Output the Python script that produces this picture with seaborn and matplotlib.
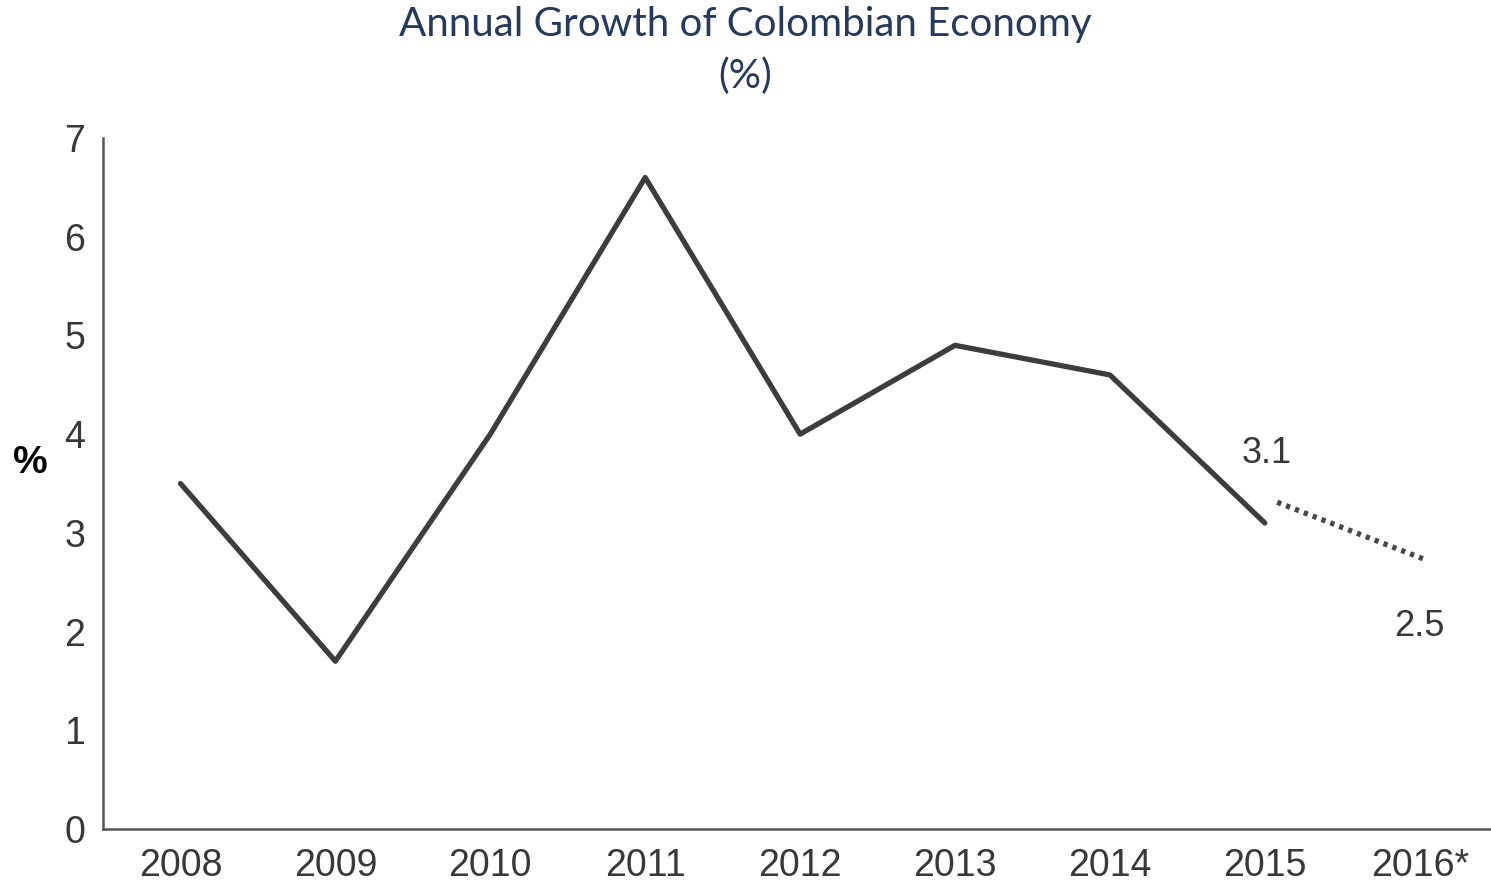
import pandas as pd
import matplotlib.pyplot as plt
import seaborn as sns

# datos
years = [2008, 2009, 2010, 2011, 2012, 2013, 2014, 2015]
growth = [3.5, 1.7, 4.0, 6.6, 4.0, 4.9, 4.6, 3.1]
tick_years = [2008, 2009, 2010, 2011, 2012, 2013, 2014, 2015, 2016]
tick_labels = ['2008', '2009', '2010', '2011', '2012', '2013', '2014', '2015', '2016*']
# proyeccion (linea punteada)
proj_years = [2015.08, 2016.05]
proj_growth = [3.31, 2.72]

df = pd.DataFrame({'year': years, 'growth': growth})
proj = pd.DataFrame({'year': proj_years, 'growth': proj_growth})

sns.set_style('white')
plt.rcParams['font.family'] = ['Liberation Sans', 'DejaVu Sans']

fig = plt.figure(figsize=(14.91, 8.82), dpi=100)
ax = fig.add_axes([0.0691, 0.0601, 0.9309, 0.7834])

sns.lineplot(data=df, x='year', y='growth', color='#3d3d40', linewidth=3.8, ax=ax)
sns.lineplot(data=proj, x='year', y='growth', color='#48484b', linewidth=3.8,
             linestyle=(0, (0.8, 1.0)), ax=ax)

ax.set_xlim(2007.5, 2016.46)
ax.set_ylim(0, 7)
ax.set_xticks(tick_years)
ax.set_xticklabels(tick_labels)
ax.set_yticks(range(0, 8))
ax.tick_params(axis='both', labelsize=27, colors='#383838', length=0)
ax.tick_params(axis='x', pad=14)
ax.tick_params(axis='y', pad=13)
for s in ['top', 'right']:
    ax.spines[s].set_visible(False)
for s in ['left', 'bottom']:
    ax.spines[s].set_color('#555555')
    ax.spines[s].set_linewidth(1.8)

ax.set_xlabel('')
ax.set_ylabel('')
fig.text(0.02, 1 - 463 / 882, '%', fontsize=28, fontweight='bold', color='black',
         ha='center', va='center')

# etiquetas de valores
ax.text(2015.01, 3.8, '3.1', fontsize=26, color='#383838', ha='center', va='center')
ax.text(2016.0, 2.05, '2.5', fontsize=26, color='#383838', ha='center', va='center')

fig.suptitle('Annual Growth of Colombian Economy\n(%)', y=0.993, fontsize=29,
             color='#243a5e', family=['Lato', 'DejaVu Sans'], linespacing=1.45)

plt.savefig('out.png', dpi=100)
